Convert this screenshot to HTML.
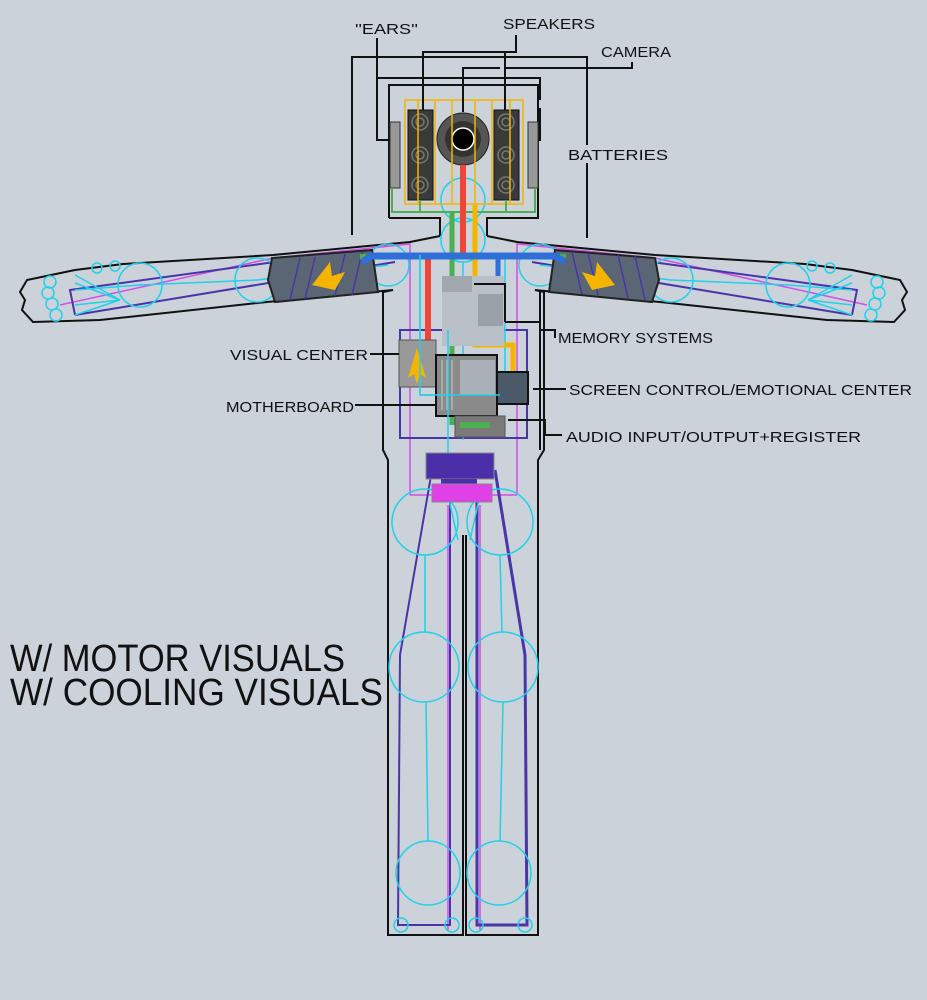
<!DOCTYPE html>
<html><head><meta charset="utf-8"><style>
html,body{margin:0;padding:0;background:#cbd2d9;}
svg{display:block}
text{font-family:"Liberation Sans",sans-serif;fill:#111;}
</style></head><body>
<svg width="927" height="1000" viewBox="0 0 927 1000" xmlns="http://www.w3.org/2000/svg">
<rect width="927" height="1000" fill="#cbd2d9"/>

<!-- BODY OUTLINE -->
<g fill="none" stroke="#111" stroke-width="2">
  <path d="M389,218 L389,85 L538,85 L538,218 L487,218 L487,236"/>
  <path d="M389,218 L440,218 L440,236"/>
  <path d="M440,236 L410,242 L273,255 L123,264 L75,270 L27,280 L20,292 L25,300 L22,310 L33,322 L100,320 L267,302 L393,290 L383,292 L383,450 L388,460 L388,935 L463,935 L463,535"/>
  <path d="M487,236 L517,242 L655,255 L805,264 L852,270 L900,280 L907,292 L902,300 L905,310 L894,322 L827,320 L660,302 L535,290 L544,292 L544,450 L538,460 L538,935 L466,935 L466,535"/>
</g>

<!-- MAGENTA -->
<g fill="none" stroke="#d050e8" stroke-width="1.5">
  <path d="M410,495 L410,244 L273,258 L60,305"/>
  <path d="M517,495 L517,244 L655,258 L867,305"/>
  <path d="M410,495 L517,495"/>
  <path d="M448,505 L448,930 M480,505 L480,930"/>
</g>

<!-- PURPLE lines -->
<g fill="none" stroke="#4a35a8" stroke-width="2">
  <rect x="400" y="330" width="127" height="108"/>
  <path d="M395,262 L75,315 M532,262 L852,315"/>
  <path d="M75,315 L70,290 L275,262 M852,315 L857,290 L652,262"/>
  <path d="M432,470 L400,655 L398,925 L450,925 L450,495"/>
  <path d="M495,470 L525,655 L527,925 L477,925 L477,495" stroke-width="3"/>
</g>

<!-- CYAN skeleton -->
<g fill="none" stroke="#22d0ea" stroke-width="1.5">
  <circle cx="463" cy="200" r="22"/><circle cx="463" cy="240" r="22"/>
  <circle cx="388" cy="265" r="21"/><circle cx="257" cy="280" r="22"/><circle cx="140" cy="285" r="22"/>
  <circle cx="540" cy="265" r="21"/><circle cx="671" cy="280" r="22"/><circle cx="788" cy="285" r="22"/>
  <path d="M388,265 L257,280 L140,285 L75,290 M120,300 L75,275 M120,300 L75,283 M120,300 L75,305 M120,300 L75,315"/>
  <path d="M540,265 L671,280 L788,285 L852,290 M808,300 L852,275 M808,300 L852,283 M808,300 L852,305 M808,300 L852,315"/>
  <circle cx="50" cy="282" r="6"/><circle cx="48" cy="293" r="6"/><circle cx="52" cy="304" r="6"/><circle cx="56" cy="315" r="6"/>
  <circle cx="97" cy="268" r="5"/><circle cx="115" cy="266" r="5"/>
  <circle cx="877" cy="282" r="6"/><circle cx="879" cy="293" r="6"/><circle cx="875" cy="304" r="6"/><circle cx="871" cy="315" r="6"/>
  <circle cx="830" cy="268" r="5"/><circle cx="812" cy="266" r="5"/>
  <path d="M420,255 L420,395 L500,395 M505,258 L505,395 L520,395"/>
  <path d="M463,262 L463,440"/>
  <circle cx="425" cy="522" r="33"/><circle cx="500" cy="522" r="33"/>
  <circle cx="424" cy="667" r="35"/><circle cx="503" cy="667" r="35"/>
  <circle cx="428" cy="873" r="32"/><circle cx="499" cy="873" r="32"/>
  <path d="M425,555 L425,632 M426,702 L428,841 M500,555 L502,632 M503,702 L500,841"/>
  <path d="M448,495 L458,540 M480,495 L470,540"/>
  <circle cx="401" cy="925" r="7"/><circle cx="452" cy="925" r="7"/><circle cx="476" cy="925" r="7"/><circle cx="525" cy="925" r="7"/>
</g>

<!-- ARM MOTORS -->
<g>
  <polygon points="272,258 372,250 378,292 275,302 268,280" fill="#5a6673" stroke="#222" stroke-width="2"/>
  <polygon points="555,250 655,258 659,280 652,302 549,292" fill="#5a6673" stroke="#222" stroke-width="2"/>
  <g stroke="#4a35a8" stroke-width="1.5">
    <path d="M290,300 L300,258 M305,299 L315,257 M335,296 L345,254 M352,295 L362,252"/>
    <path d="M572,252 L582,294 M588,253 L598,295 M618,255 L628,298 M635,256 L645,300"/>
  </g>
  <polygon points="312,285 330,262 332,276 345,272 335,290" fill="#f4b400"/>
  <polygon points="615,285 597,262 595,276 582,272 592,290" fill="#f4b400"/>
  <rect x="360" y="254" width="6" height="6" fill="#4caf50"/>
  <rect x="560" y="254" width="6" height="6" fill="#4caf50"/>
</g>

<!-- HEAD INTERNALS -->
<rect x="390" y="122" width="10" height="66" fill="#999" stroke="#333"/>
<rect x="528" y="122" width="10" height="66" fill="#999" stroke="#333"/>
<rect x="408" y="110" width="25" height="90" fill="#3a3a3a" stroke="#111"/>
<rect x="494" y="110" width="25" height="90" fill="#3a3a3a" stroke="#111"/>
<g fill="none" stroke="#777" stroke-width="1.5">
  <circle cx="420" cy="122" r="8"/><circle cx="420" cy="122" r="4"/>
  <circle cx="420" cy="155" r="8"/><circle cx="420" cy="155" r="4"/>
  <circle cx="420" cy="185" r="8"/><circle cx="420" cy="185" r="4"/>
  <circle cx="506" cy="122" r="8"/><circle cx="506" cy="122" r="4"/>
  <circle cx="506" cy="155" r="8"/><circle cx="506" cy="155" r="4"/>
  <circle cx="506" cy="185" r="8"/><circle cx="506" cy="185" r="4"/>
</g>
<circle cx="463" cy="139" r="26" fill="#555" stroke="#222"/>
<circle cx="463" cy="139" r="18" fill="#333"/>
<circle cx="463" cy="139" r="11" fill="#000" stroke="#fff" stroke-width="1.5"/>
<g fill="none" stroke="#f4b400" stroke-width="1.5">
  <rect x="405" y="100" width="118" height="104"/>
  <path d="M418,100 L418,204 M435,100 L435,204 M452,100 L452,204 M475,100 L475,204 M492,100 L492,204 M510,100 L510,204"/>
</g>
<g fill="none" stroke="#4caf50" stroke-width="2">
  <path d="M392,188 L392,212 L535,212 L535,188 M420,200 L420,212 M506,200 L506,212"/>
</g>

<!-- WIRES -->
<g fill="none" stroke-linejoin="miter">
  <path d="M452,212 L452,425" stroke="#4caf50" stroke-width="5"/>
  <path d="M463,165 L463,256 L428,256 L428,340" stroke="#f04438" stroke-width="6"/>
  <path d="M475,205 L475,345 L513,345 L513,385" stroke="#f4b400" stroke-width="5"/>
  <path d="M362,262 L372,256 L555,256 L565,262" stroke="#2f70d8" stroke-width="7"/>
  <path d="M498,256 L498,342 L480,342" stroke="#2f70d8" stroke-width="5"/>
</g>

<!-- TORSO COMPONENTS -->
<rect x="442" y="276" width="62" height="70" fill="#b9c0c8"/>
<rect x="442" y="276" width="30" height="16" fill="#a0a7ae"/>
<rect x="478" y="294" width="25" height="32" fill="#9aa1a8"/>
<path d="M474,284 L505,284 L505,322" fill="none" stroke="#111" stroke-width="2"/>
<rect x="399" y="340" width="37" height="47" fill="#999" stroke="#555"/>
<polygon points="417,348 408,378 414,374 417,384 420,374 426,378" fill="#f4b400"/>
<rect x="436" y="355" width="61" height="61" fill="#8a8a8a" stroke="#111" stroke-width="2"/>
<rect x="460" y="360" width="35" height="35" fill="#aab0b8"/>
<path d="M442,360 L442,410 M447,360 L447,410 M452,360 L452,410" stroke="#ccc" stroke-width="1"/>
<rect x="497" y="372" width="31" height="32" fill="#4a5a68" stroke="#111" stroke-width="2"/>
<rect x="455" y="416" width="50" height="21" fill="#7a7a7a" stroke="#555"/>
<rect x="460" y="422" width="30" height="6" fill="#4caf50"/>
<path d="M420,255 L420,395 L500,395 M448,330 L448,470" fill="none" stroke="#22d0ea" stroke-width="1.5"/>
<rect x="426" y="453" width="68" height="26" fill="#4a2fa8" stroke="#888"/>
<rect x="441" y="479" width="36" height="6" fill="#4a2fa8"/>
<rect x="432" y="484" width="60" height="18" fill="#e040e8" stroke="#888"/>

<!-- LEADER LINES -->
<g fill="none" stroke="#111" stroke-width="2">
  <path d="M377,38 L377,140 L390,140"/>
  <path d="M377,78 L540,78 L540,100 M540,108 L540,140 L538,140"/>
  <path d="M516,35 L516,52 L423,52 L423,110 M505,52 L505,110"/>
  <path d="M463,112 L463,68 L500,68 M505,68 L632,68 L632,62"/>
  <path d="M352,235 L352,57 L587,57 L587,145 M587,163 L587,238"/>
  <path d="M540,290 L540,450"/>
  <path d="M505,322 L540,322 L540,330 L555,330 L555,338"/>
  <path d="M370,354 L399,354"/>
  <path d="M355,405 L436,405"/>
  <path d="M533,389 L566,389"/>
  <path d="M508,420 L545,420 L545,435 L562,435"/>
</g>

<!-- LABELS -->
<g font-size="15">
  <text x="355" y="34" textLength="63" lengthAdjust="spacingAndGlyphs">''EARS''</text>
  <text x="503" y="29" textLength="92" lengthAdjust="spacingAndGlyphs">SPEAKERS</text>
  <text x="601" y="57" textLength="70" lengthAdjust="spacingAndGlyphs">CAMERA</text>
  <text x="568" y="160" textLength="100" lengthAdjust="spacingAndGlyphs">BATTERIES</text>
  <text x="558" y="343" textLength="155" lengthAdjust="spacingAndGlyphs">MEMORY SYSTEMS</text>
  <text x="230" y="360" textLength="138" lengthAdjust="spacingAndGlyphs">VISUAL CENTER</text>
  <text x="226" y="412" textLength="128" lengthAdjust="spacingAndGlyphs">MOTHERBOARD</text>
  <text x="569" y="395" textLength="343" lengthAdjust="spacingAndGlyphs">SCREEN CONTROL/EMOTIONAL CENTER</text>
  <text x="566" y="442" textLength="295" lengthAdjust="spacingAndGlyphs">AUDIO INPUT/OUTPUT+REGISTER</text>
</g>
<g font-size="38">
  <text x="10" y="671" textLength="335" lengthAdjust="spacingAndGlyphs">W/ MOTOR VISUALS</text>
  <text x="10" y="705" textLength="373" lengthAdjust="spacingAndGlyphs">W/ COOLING VISUALS</text>
</g>
</svg>
</body></html>
